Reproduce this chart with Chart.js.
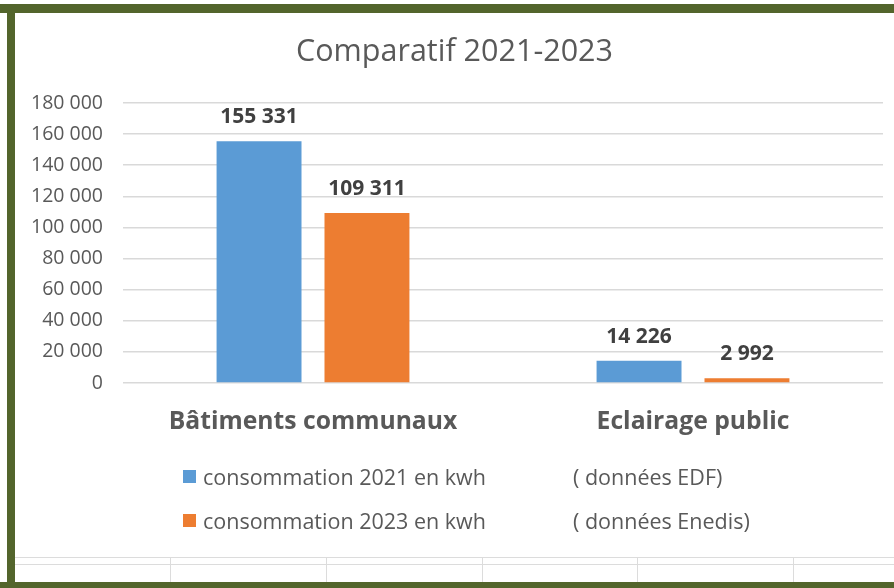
<!DOCTYPE html>
<html lang="fr">
<head>
<meta charset="utf-8">
<title>Comparatif 2021-2023</title>
<script src="https://cdn.jsdelivr.net/npm/chart.js@4.4.0/dist/chart.umd.min.js"></script>
<style>
  html, body { margin: 0; padding: 0; background: #fff; }
  #wrap { position: relative; width: 894px; height: 588px; overflow: hidden; font-family: "Open Sans", sans-serif; color: #595959; }
  #chart { position: absolute; left: 0; top: 0; }
  .cadre { position: absolute; background: #53652c; }
  .ligne { position: absolute; background: #dcdcdc; }
  .leg { position: absolute; font-size: 21.5px; line-height: 28px; white-space: nowrap; }
  .carre { position: absolute; width: 13px; height: 13px; }
</style>
</head>
<body>
<div id="wrap">
  <canvas id="chart" width="894" height="588"></canvas>
  <div id="legende"></div>
  <div id="feuille"></div>
  <div class="cadre" style="left:0;top:4px;width:894px;height:9px"></div>
  <div class="cadre" style="left:7px;top:4px;width:8px;height:584px"></div>
  <div class="cadre" style="left:0;top:582px;width:894px;height:6px"></div>
</div>
<script>
// données
const categories = ["Bâtiments communaux", "Eclairage public"];
const series = ["consommation 2021 en kwh", "consommation 2023 en kwh"];
const sources = ["( données EDF)", "( données Enedis)"];
const conso2021 = [155331, 14226];
const conso2023 = [109311, 2992];
const couleurs = ["#5b9bd5", "#ed7d31"];
const yMax = 180000;
const yPas = 20000;

// format 155 331
function formatNombre(v) {
  return String(Math.round(v)).replace(/\B(?=(\d{3})+(?!\d))/g, " ");
}

// étiquettes au-dessus des barres
const etiquettes = {
  id: "etiquettes",
  afterDatasetsDraw(chart) {
    const ctx = chart.ctx;
    ctx.save();
    ctx.font = "bold 21px 'Open Sans'";
    ctx.fillStyle = "#404040";
    ctx.textAlign = "center";
    ctx.textBaseline = "middle";
    chart.data.datasets.forEach((ds, i) => {
      chart.getDatasetMeta(i).data.forEach((bar, j) => {
        ctx.fillText(formatNombre(ds.data[j]), bar.x, bar.y - 24);
      });
    });
    ctx.restore();
  }
};

new Chart(document.getElementById("chart"), {
  type: "bar",
  data: {
    labels: categories,
    datasets: [
      { label: series[0], data: conso2021, backgroundColor: couleurs[0] },
      { label: series[1], data: conso2023, backgroundColor: couleurs[1] }
    ]
  },
  options: {
    responsive: false,
    animation: false,
    layout: { padding: { left: 26, right: 11, top: 0, bottom: 0 } },
    categoryPercentage: 0.568,
    barPercentage: 0.787,
    plugins: {
      legend: { display: false },
      tooltip: { enabled: false },
      title: {
        display: true,
        text: "Comparatif 2021-2023",
        color: "#595959",
        font: { family: "'Open Sans'", size: 30.5, weight: "normal", lineHeight: 1.2 },
        padding: { top: 33.7, bottom: 32.7 }
      }
    },
    scales: {
      x: {
        grid: { display: false, drawTicks: false },
        border: { display: false },
        ticks: {
          color: "#595959",
          padding: 24,
          font: { family: "'Open Sans'", size: 24.7, weight: "bold", lineHeight: 1.2 }
        },
        afterFit(scale) { scale.height = 205; }
      },
      y: {
        min: 0,
        max: yMax,
        grid: { color: "#d9d9d9", lineWidth: 1.5, drawTicks: false },
        border: { display: false },
        ticks: {
          stepSize: yPas,
          color: "#595959",
          padding: 20,
          font: { family: "'Open Sans'", size: 19.5 },
          callback: v => formatNombre(v)
        },
        afterFit(scale) { scale.width = 97; }
      }
    }
  },
  plugins: [etiquettes]
});

// légende
const legende = document.getElementById("legende");
const lignesLegende = [477, 521];
series.forEach((s, i) => {
  const y = lignesLegende[i];
  legende.insertAdjacentHTML("beforeend",
    `<div class="carre" style="left:183px;top:${y - 7}px;background:${couleurs[i]}"></div>` +
    `<div class="leg" style="left:203px;top:${y - 14}px">${s}</div>` +
    `<div class="leg" style="left:573px;top:${y - 14}px">${sources[i]}</div>`);
});

// quadrillage de la feuille en bas
const feuille = document.getElementById("feuille");
feuille.insertAdjacentHTML("beforeend",
  `<div class="ligne" style="left:15px;top:557px;width:879px;height:1px"></div>` +
  `<div class="ligne" style="left:15px;top:564px;width:879px;height:1px"></div>`);
[170, 326, 482, 637, 793].forEach(x => {
  feuille.insertAdjacentHTML("beforeend", `<div class="ligne" style="left:${x}px;top:557px;width:1px;height:26px"></div>`);
});
</script>
</body>
</html>
